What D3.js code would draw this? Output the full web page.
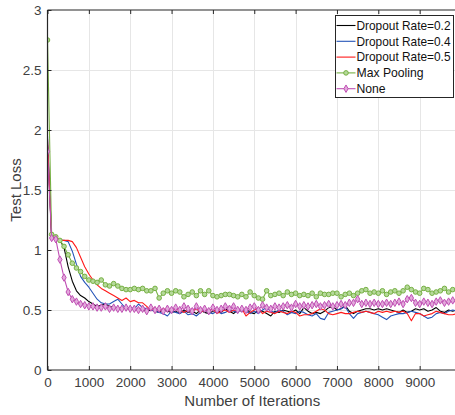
<!DOCTYPE html>
<html>
<head>
<meta charset="utf-8">
<script src="https://cdn.jsdelivr.net/npm/d3@7"></script>
<style>
  html, body { margin: 0; padding: 0; background: #fff; }
  svg { display: block; font-family: "Liberation Sans", Arial, Helvetica, sans-serif; }
</style>
</head>
<body>
<svg id="chart" width="455" height="415"></svg>
<script>
// Test loss sampled every 100 iterations (0 .. 9900)
const iterations = d3.range(0, 10000, 100);

const dropout02 = [1.88,1.10,1.09,1.08,1.02,0.86,0.74,0.66,0.62,0.60,
  0.57,0.55,0.53,0.54,0.55,0.53,0.52,0.51,0.52,0.51,
  0.51,0.50,0.51,0.50,0.49,0.50,0.49,0.48,0.50,0.49,
  0.48,0.49,0.47,0.50,0.48,0.49,0.47,0.50,0.48,0.47,
  0.49,0.50,0.48,0.51,0.49,0.47,0.50,0.49,0.51,0.48,
  0.47,0.50,0.49,0.47,0.45,0.49,0.48,0.50,0.49,0.48,
  0.50,0.47,0.52,0.49,0.47,0.48,0.47,0.49,0.52,0.53,
  0.50,0.51,0.54,0.49,0.47,0.49,0.50,0.51,0.51,0.50,
  0.51,0.50,0.51,0.50,0.49,0.48,0.50,0.48,0.49,0.51,
  0.50,0.51,0.49,0.50,0.52,0.49,0.48,0.50,0.49,0.50];

const dropout04 = [1.95,1.10,1.09,1.08,1.08,1.07,0.99,0.88,0.78,0.73,
  0.69,0.64,0.59,0.56,0.55,0.55,0.57,0.59,0.55,0.51,
  0.52,0.51,0.55,0.52,0.51,0.50,0.49,0.48,0.47,0.45,
  0.49,0.48,0.47,0.49,0.46,0.47,0.45,0.48,0.50,0.48,
  0.47,0.49,0.47,0.48,0.50,0.49,0.48,0.51,0.49,0.47,
  0.49,0.47,0.50,0.52,0.49,0.48,0.50,0.49,0.46,0.48,
  0.47,0.49,0.48,0.46,0.45,0.47,0.43,0.42,0.48,0.49,
  0.50,0.51,0.53,0.47,0.43,0.47,0.48,0.49,0.48,0.47,
  0.46,0.44,0.42,0.45,0.46,0.47,0.47,0.48,0.49,0.48,
  0.47,0.45,0.43,0.44,0.47,0.48,0.47,0.49,0.50,0.49];

const dropout05 = [1.93,1.10,1.09,1.08,1.08,1.08,1.07,1.02,0.94,0.86,
  0.80,0.75,0.71,0.68,0.66,0.64,0.62,0.60,0.58,0.60,
  0.57,0.58,0.56,0.56,0.53,0.50,0.52,0.49,0.51,0.50,
  0.49,0.51,0.50,0.48,0.50,0.49,0.51,0.48,0.50,0.49,
  0.51,0.47,0.49,0.50,0.48,0.50,0.49,0.51,0.45,0.48,
  0.50,0.52,0.47,0.49,0.48,0.47,0.49,0.48,0.47,0.49,
  0.48,0.45,0.46,0.46,0.47,0.49,0.51,0.50,0.47,0.46,
  0.47,0.48,0.47,0.47,0.48,0.49,0.48,0.49,0.48,0.47,
  0.49,0.48,0.49,0.48,0.49,0.48,0.49,0.47,0.41,0.47,
  0.47,0.45,0.46,0.47,0.49,0.48,0.47,0.46,0.46,0.47];

const maxPooling = [2.75,1.13,1.11,1.08,1.03,0.96,0.89,0.85,0.82,0.78,
  0.75,0.74,0.73,0.75,0.71,0.70,0.72,0.70,0.68,0.67,
  0.67,0.68,0.67,0.68,0.66,0.66,0.68,0.60,0.64,0.66,
  0.64,0.66,0.65,0.61,0.63,0.65,0.62,0.66,0.63,0.66,
  0.62,0.61,0.62,0.63,0.63,0.62,0.61,0.63,0.61,0.65,
  0.62,0.60,0.59,0.66,0.62,0.63,0.64,0.62,0.65,0.63,
  0.64,0.62,0.63,0.62,0.64,0.61,0.64,0.63,0.63,0.64,
  0.64,0.61,0.63,0.64,0.62,0.64,0.66,0.67,0.64,0.65,
  0.64,0.66,0.63,0.65,0.66,0.64,0.66,0.69,0.67,0.65,
  0.64,0.68,0.67,0.64,0.65,0.66,0.68,0.65,0.67,0.67];

const noPooling = [1.82,1.10,1.09,0.92,0.77,0.65,0.59,0.57,0.55,0.54,
  0.53,0.53,0.52,0.52,0.53,0.51,0.52,0.51,0.51,0.52,
  0.51,0.51,0.50,0.51,0.49,0.52,0.50,0.51,0.49,0.51,
  0.50,0.52,0.50,0.53,0.51,0.49,0.53,0.50,0.51,0.49,
  0.52,0.50,0.51,0.53,0.51,0.53,0.50,0.51,0.50,0.52,
  0.53,0.50,0.54,0.52,0.51,0.53,0.52,0.53,0.54,0.52,
  0.55,0.53,0.54,0.53,0.54,0.55,0.53,0.54,0.55,0.53,
  0.54,0.55,0.54,0.56,0.56,0.59,0.55,0.56,0.55,0.56,
  0.55,0.55,0.56,0.55,0.56,0.57,0.55,0.59,0.60,0.56,
  0.55,0.57,0.56,0.55,0.57,0.58,0.56,0.57,0.58,0.57];

const seriesNames = ["Dropout Rate=0.2", "Dropout Rate=0.4", "Dropout Rate=0.5", "Max Pooling", "None"];
const seriesValues = [dropout02, dropout04, dropout05, maxPooling, noPooling];
const seriesColors = ["#000000", "#2454b8", "#ff1a1a", "#76b043", "#c04fb4"];
const seriesMarkers = ["none", "none", "none", "circle", "diamond"];

const xTicks = d3.range(0, 10000, 1000);
const yTicks = [0, 0.5, 1, 1.5, 2, 2.5, 3];

const svg = d3.select("#chart");
const plotL = 47.5, plotT = 10, plotB = 370, plotR = 461;

const x = d3.scaleLinear().domain([0, 10000]).range([plotL, plotR]);
const y = d3.scaleLinear().domain([0, 3]).range([plotB, plotT]);

// grid
const grid = svg.append("g").attr("stroke", "#e6e6e6").attr("stroke-width", 1);
grid.selectAll(".gx").data(xTicks.filter(d => d > 0)).join("line")
  .attr("x1", d => Math.round(x(d)) + 0.5).attr("x2", d => Math.round(x(d)) + 0.5)
  .attr("y1", plotT).attr("y2", plotB);
grid.selectAll(".gy").data(yTicks.filter(d => d > 0 && d < 3)).join("line")
  .attr("y1", d => Math.round(y(d)) + 0.5).attr("y2", d => Math.round(y(d)) + 0.5)
  .attr("x1", plotL).attr("x2", plotR);

// clip region for data
svg.append("clipPath").attr("id", "plotClip").append("rect")
  .attr("x", plotL).attr("y", plotT).attr("width", plotR - plotL).attr("height", plotB - plotT);

const plot = svg.append("g").attr("clip-path", "url(#plotClip)");
const line = d3.line().x((d, i) => x(iterations[i])).y(d => y(d));

seriesValues.forEach((vals, k) => {
  plot.append("path").datum(vals)
    .attr("fill", "none")
    .attr("stroke", seriesColors[k])
    .attr("stroke-width", 1.1)
    .attr("stroke-linejoin", "round")
    .attr("d", line);
  if (seriesMarkers[k] === "circle") {
    plot.append("g").selectAll("circle").data(vals).join("circle")
      .attr("cx", (d, i) => x(iterations[i])).attr("cy", d => y(d))
      .attr("r", 2.3)
      .attr("fill", "#b5d99a").attr("stroke", seriesColors[k]).attr("stroke-width", 1);
  } else if (seriesMarkers[k] === "diamond") {
    const sym = d3.symbol().type(d3.symbolDiamond).size(16);
    plot.append("g").selectAll("path").data(vals).join("path")
      .attr("transform", (d, i) => `translate(${x(iterations[i])},${y(d)})`)
      .attr("d", sym)
      .attr("fill", "#e2a9db").attr("stroke", seriesColors[k]).attr("stroke-width", 1);
  }
});

// axes (ticks point inward)
const axisColor = "#262626";
const xAxis = svg.append("g").attr("transform", `translate(0,${plotB})`)
  .call(d3.axisBottom(x).tickValues(xTicks).tickSize(-4).tickPadding(7).tickFormat(d3.format("d")));
const xTop = svg.append("g").attr("transform", `translate(0,${plotT})`)
  .call(d3.axisTop(x).tickValues(xTicks).tickSize(-4).tickFormat(""));
const yAxis = svg.append("g").attr("transform", `translate(${plotL},0)`)
  .call(d3.axisLeft(y).tickValues(yTicks).tickSize(-4).tickPadding(6).tickFormat(d3.format("")));

[xAxis, xTop, yAxis].forEach(g => {
  g.select(".domain").attr("stroke", axisColor).attr("stroke-width", 1.2);
  g.selectAll(".tick line").attr("stroke", axisColor);
  g.selectAll(".tick text").attr("fill", "#404040").attr("font-size", 13.5)
    .attr("font-family", "Liberation Sans, Arial, sans-serif");
});
xTop.select(".domain").attr("d", `M${plotL},0H${plotR}`);
xAxis.select(".domain").attr("d", `M${plotL},0H${plotR}`);
yAxis.select(".domain").attr("d", `M0,${plotT}V${plotB}`);

// axis titles
svg.append("text")
  .attr("x", (plotL + plotR) / 2 - 2).attr("y", 406)
  .attr("text-anchor", "middle").attr("font-size", 15).attr("fill", "#404040")
  .text("Number of Iterations");
svg.append("text")
  .attr("transform", `translate(21,${(plotT + plotB) / 2}) rotate(-90)`)
  .attr("text-anchor", "middle").attr("font-size", 15).attr("fill", "#404040")
  .text("Test Loss");

// legend
const lg = svg.append("g").attr("transform", "translate(335.5,15.5)");
lg.append("rect").attr("width", 118).attr("height", 82)
  .attr("fill", "#fff").attr("stroke", axisColor).attr("stroke-width", 1);
seriesNames.forEach((name, k) => {
  const ry = 10 + k * 15.8;
  lg.append("line").attr("x1", 1).attr("x2", 20).attr("y1", ry).attr("y2", ry)
    .attr("stroke", seriesColors[k]).attr("stroke-width", 1.1);
  if (seriesMarkers[k] === "circle") {
    lg.append("circle").attr("cx", 10.5).attr("cy", ry).attr("r", 2.3)
      .attr("fill", "#b5d99a").attr("stroke", seriesColors[k]);
  } else if (seriesMarkers[k] === "diamond") {
    lg.append("path").attr("transform", `translate(10.5,${ry})`)
      .attr("d", d3.symbol().type(d3.symbolDiamond).size(16)())
      .attr("fill", "#e2a9db").attr("stroke", seriesColors[k]);
  }
  lg.append("text").attr("x", 21).attr("y", ry).attr("dy", "0.35em")
    .attr("font-size", 12.2).attr("textLength", 94).attr("lengthAdjust", "spacingAndGlyphs")
    .attr("fill", "#111").text(name)
    .attr("textLength", k < 3 ? 94 : null);
});
</script>
</body>
</html>
